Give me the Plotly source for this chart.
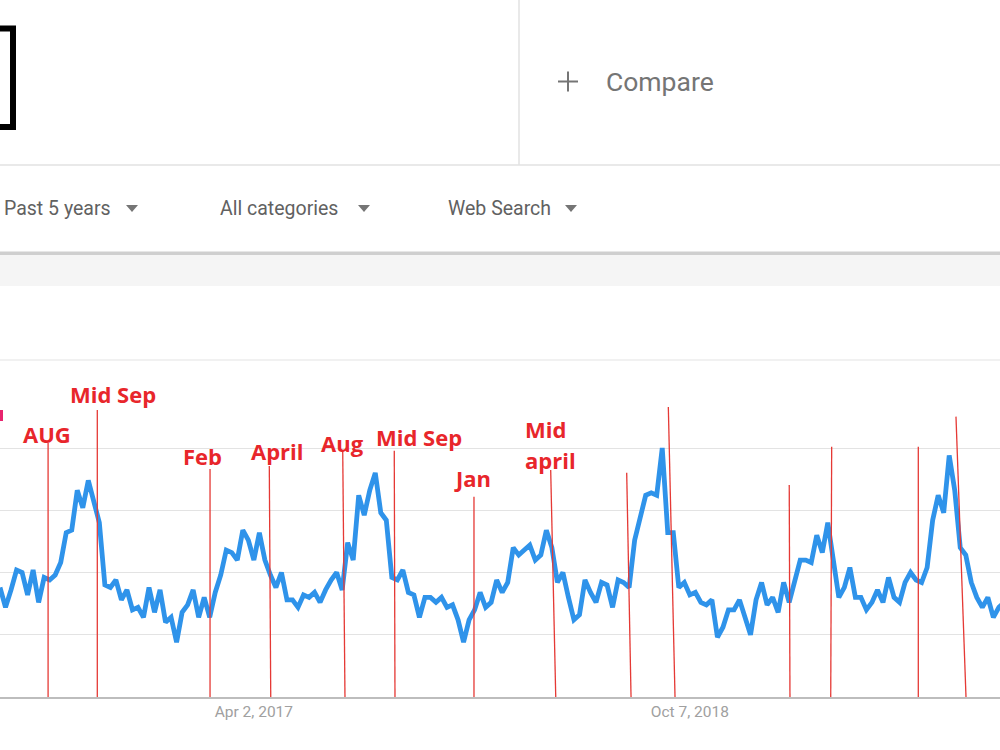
import pandas as pd
import plotly.graph_objects as go

# ---------------- data ----------------
start_week = "2016-05-15"
interest = [
    44, 36, 43, 51, 50, 41, 51, 38, 48, 47, 49, 54, 66, 67, 83, 76, 87, 78, 70, 45,
    44, 47, 39, 43, 35, 36, 32, 44, 34, 43, 30, 32, 22, 34, 37, 43, 32, 40, 32, 42,
    49, 59, 58, 55, 67, 63, 55, 66, 55, 49, 44, 50, 39, 39, 36, 41, 40, 42, 38, 43,
    47, 50, 43, 62, 55, 81, 73, 83, 90, 74, 71, 48, 47, 51, 42, 41, 32, 40, 40, 38,
    40, 36, 37, 31, 22, 31, 35, 42, 36, 38, 47, 42, 46, 60, 57, 59, 61, 55, 57, 67,
    60, 46, 50, 40, 31, 33, 47, 42, 38, 46, 45, 36, 47, 46, 44, 63, 72, 81, 82, 81,
    100, 66, 66, 44, 46, 41, 42, 38, 37, 39, 24, 28, 35, 35, 39, 32, 25, 39, 46, 37,
    40, 34, 46, 38, 46, 55, 55, 54, 65, 58, 70, 55, 40, 44, 52, 40, 40, 35, 38, 43,
    38, 48, 40, 38, 46, 50, 47, 46, 52, 71, 81, 74, 97, 83, 60, 57, 46, 40, 36, 40,
    32, 36, 38,
]
tick_dates = ["2017-04-02", "2018-10-07"]
tick_labels = ["Apr 2, 2017", "Oct 7, 2018"]
x_range = ["2016-05-15", "2019-11-04 10:00"]

# hand-drawn red marker lines: (bottom date, top date, top value)
marker_bottom = ["2016-07-15", "2016-09-15 10:00", "2017-02-05 10:00", "2017-04-23 10:00",
                 "2017-07-26 14:00", "2017-09-28", "2018-01-06 05:00", "2018-04-19 22:00",
                 "2018-07-24 10:00", "2018-09-18 05:00", "2019-02-11", "2019-04-03 17:00",
                 "2019-07-23 19:00", "2019-09-22 07:00"]
marker_top = ["2016-07-15", "2016-09-15 10:00", "2017-02-05 10:00", "2017-04-21 14:00",
              "2017-07-23 17:00", "2017-09-27 02:00", "2018-01-06 05:00", "2018-04-13 12:00",
              "2018-07-18 22:00", "2018-09-09 17:00", "2019-02-10 02:00", "2019-04-04 22:00",
              "2019-07-23 19:00", "2019-09-09 14:00"]
marker_top_value = [102, 115.3, 91.6, 92.8, 99.2, 98.9, 80.4, 91.2, 90.1, 116.5, 85.1,
                    100.5, 100.5, 112.6]

labels = ["AUG", "Mid Sep", "Feb", "April", "Aug", "Mid Sep", "Jan", "Mid", "april"]

dates = pd.date_range(start_week, periods=len(interest), freq="7D")

# ---------------- helpers (pixel -> paper) ----------------
W, H = 1000, 750
def px(x):
    return x / W
def py(y):
    return 1 - y / H

fig = go.Figure()
fig.add_trace(go.Scatter(
    x=dates, y=interest, mode="lines",
    line=dict(color="#2f93ea", width=4.8),
    hoverinfo="skip", showlegend=False,
))

shapes = []
# header background elements
shapes.append(dict(type="rect", xref="paper", yref="paper", x0=px(-20), x1=px(13),
                   y0=py(127), y1=py(28.5), line=dict(color="black", width=6)))
shapes.append(dict(type="line", xref="paper", yref="paper", x0=px(519), x1=px(519),
                   y0=py(0), y1=py(165), line=dict(color="#e2e2e2", width=1.5)))
shapes.append(dict(type="line", xref="paper", yref="paper", x0=0, x1=1,
                   y0=py(165), y1=py(165), line=dict(color="#e2e2e2", width=1.5)))
# plus sign
shapes.append(dict(type="line", xref="paper", yref="paper", x0=px(558), x1=px(578),
                   y0=py(81.5), y1=py(81.5), line=dict(color="#757575", width=2)))
shapes.append(dict(type="line", xref="paper", yref="paper", x0=px(568), x1=px(568),
                   y0=py(71.5), y1=py(91.5), line=dict(color="#757575", width=2)))
# dropdown triangles
for tx in [126, 358, 565]:
    path = "M {} {} L {} {} L {} {} Z".format(px(tx), py(205), px(tx + 12), py(205),
                                               px(tx + 6), py(212))
    shapes.append(dict(type="path", xref="paper", yref="paper", path=path,
                       fillcolor="#757575", line=dict(width=0)))
# shadow + grey band
shapes.append(dict(type="rect", xref="paper", yref="paper", x0=0, x1=1, y0=py(286),
                   y1=py(254), fillcolor="#f5f5f5", line=dict(width=0), layer="below"))
shapes.append(dict(type="rect", xref="paper", yref="paper", x0=0, x1=1, y0=py(255),
                   y1=py(251.5), fillcolor="#cfcfcf", line=dict(width=0)))
# top grid line
shapes.append(dict(type="line", xref="paper", yref="paper", x0=0, x1=1, y0=py(360),
                   y1=py(360), line=dict(color="#e3e3e3", width=1.2), layer="below"))
# pink fragment at left edge
shapes.append(dict(type="rect", xref="paper", yref="paper", x0=px(-2), x1=px(3),
                   y0=py(421), y1=py(410), fillcolor="#e8246e", line=dict(width=0)))
# red marker lines
for xb, xt, vt in zip(marker_bottom, marker_top, marker_top_value):
    shapes.append(dict(type="line", xref="x", yref="y", x0=xb, x1=xt, y0=0, y1=vt,
                       line=dict(color="#e53935", width=1.3)))

annotations = []
def txt(text, x, y, size, color, family="Roboto", xanchor="left"):
    annotations.append(dict(text=text, x=px(x), y=py(y), xref="paper", yref="paper",
                            xanchor=xanchor, yanchor="middle", showarrow=False,
                            font=dict(family=family, size=size, color=color)))

txt("Compare", 604, 82, 26.5, "#757575")
txt("Past 5 years", 2, 209, 19.5, "#616161")
txt("All categories", 218, 209, 19.5, "#616161")
txt("Web Search", 446, 209, 19.5, "#616161")

red = "#e8262b"
label_pos = [(47, 434, "center"), (113, 394, "center"), (202, 456, "center"),
             (277, 451, "center"), (342, 443, "center"), (419, 437, "center"),
             (472, 478, "center"), (523, 429, "left"), (523, 460, "left")]
for lab, (lx, ly, anc) in zip(labels, label_pos):
    txt("<b>" + lab + "</b>", lx, ly, 22, red, family="Open Sans", xanchor=anc)

fig.update_layout(
    width=W, height=H, autosize=False,
    margin=dict(l=0, r=0, t=0, b=0),
    paper_bgcolor="white", plot_bgcolor="white",
    shapes=shapes, annotations=annotations,
    xaxis=dict(domain=[0, 1], type="date", range=x_range, showgrid=False,
               zeroline=False, tickvals=tick_dates, ticktext=tick_labels,
               tickfont=dict(family="Roboto", size=15.5, color="#a0a0a0"),
               ticks="", showline=True, linecolor="#bdbdbd", linewidth=1.5,
               fixedrange=True),
    yaxis=dict(domain=[py(697), py(360)], range=[0, 135.34], tickvals=[25, 50, 75, 100],
               showticklabels=False, showgrid=True, gridcolor="#e3e3e3", gridwidth=1.2,
               zeroline=False, showline=False, fixedrange=True),
    showlegend=False,
)

fig.write_html("out.html", config={"displayModeBar": False})
